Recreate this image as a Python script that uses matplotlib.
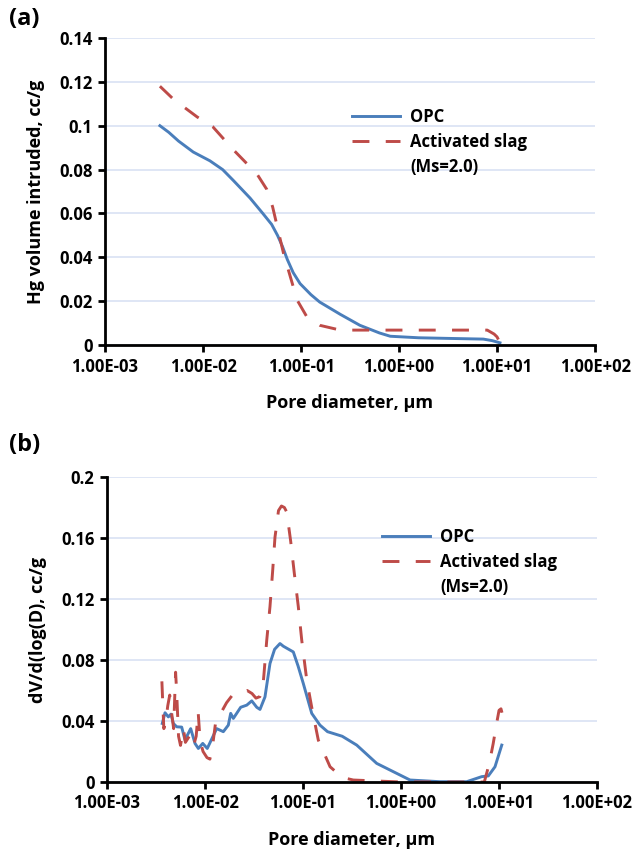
import matplotlib

matplotlib.use("Agg")
import matplotlib.pyplot as plt
from matplotlib.lines import Line2D

# ---- data (pore diameter in um) ----
opc_cum_logd = [-2.44, -2.35, -2.25, -2.10, -1.93, -1.80, -1.69, -1.52, -1.39,
                -1.30, -1.24, -1.19, -1.14, -1.08, -1.01, -0.90, -0.81, -0.60,
                -0.40, -0.20, -0.09, 0.20, 0.52, 0.86, 0.95, 1.03]
opc_cum_vol = [0.100, 0.097, 0.093, 0.088, 0.084, 0.080, 0.075, 0.067, 0.060,
               0.055, 0.050, 0.045, 0.039, 0.033, 0.028, 0.023, 0.0196, 0.014,
               0.009, 0.0055, 0.004, 0.0033, 0.0030, 0.0027, 0.0020, 0.0010]

slag_cum_logd = [-2.44, -2.30, -2.06, -1.90, -1.69, -1.45, -1.35, -1.29, -1.18,
                 -1.04, -0.94, -0.81, -0.60, 0.01, 0.90, 0.97, 1.00, 1.03]
slag_cum_vol = [0.118, 0.112, 0.104, 0.0995, 0.089, 0.078, 0.071, 0.063, 0.042,
                0.0205, 0.0128, 0.009, 0.0068, 0.0068, 0.0068, 0.005, 0.0037, 0.001]

opc_diff_logd = [-2.436, -2.408, -2.374, -2.347, -2.323, -2.289, -2.238, -2.204,
                 -2.146, -2.102, -2.068, -2.023, -1.977, -1.881, -1.813, -1.762,
                 -1.738, -1.711, -1.677, -1.636, -1.574, -1.523, -1.472, -1.439,
                 -1.388, -1.337, -1.290, -1.235, -1.20, -1.099, -1.05, -0.997,
                 -0.911, -0.827, -0.75, -0.60, -0.452, -0.248, 0.092, 0.398,
                 0.670, 0.823, 0.891, 0.959, 1.028]
opc_diff = [0.0384, 0.0454, 0.0427, 0.0445, 0.0384, 0.0362, 0.0360, 0.0276,
            0.0350, 0.0253, 0.0220, 0.0253, 0.0220, 0.0350, 0.0330, 0.0373,
            0.0450, 0.0417, 0.0450, 0.0490, 0.0504, 0.0532, 0.0490, 0.0476,
            0.0558, 0.0777, 0.0870, 0.0908, 0.0890, 0.0853, 0.0760, 0.0646,
            0.0450, 0.0373, 0.0330, 0.0300, 0.0242, 0.0122, 0.0013, 0.0002,
            0.0002, 0.0035, 0.0040, 0.0100, 0.0242]

slag_diff_logd = [-2.44, -2.43, -2.42, -2.40, -2.38, -2.36, -2.34, -2.32, -2.30,
                  -2.29, -2.27, -2.25, -2.22, -2.20, -2.16, -2.12, -2.09, -2.07,
                  -2.05, -2.02, -1.98, -1.95, -1.92, -1.89, -1.84, -1.78, -1.72,
                  -1.65, -1.57, -1.52, -1.48, -1.44, -1.41, -1.398, -1.37, -1.337,
                  -1.309, -1.286, -1.25, -1.22, -1.19, -1.166, -1.126, -1.089,
                  -1.048, -1.013, -0.962, -0.911, -0.844, -0.724, -0.60, -0.487,
                  0.0, 0.85, 0.90, 0.94, 0.98, 1.00, 1.02, 1.04]
slag_diff = [0.066, 0.050, 0.035, 0.040, 0.050, 0.057, 0.045, 0.035, 0.072,
             0.060, 0.030, 0.024, 0.035, 0.026, 0.030, 0.023, 0.030, 0.046,
             0.027, 0.020, 0.016, 0.015, 0.025, 0.040, 0.045, 0.052, 0.057,
             0.058, 0.060, 0.058, 0.055, 0.056, 0.062, 0.071, 0.093, 0.115,
             0.139, 0.1605, 0.178, 0.181, 0.180, 0.177, 0.158, 0.137,
             0.115, 0.093, 0.067, 0.049, 0.0275, 0.010, 0.003, 0.0013,
             0.0, 0.0, 0.012, 0.025, 0.040, 0.047, 0.048, 0.043]

x_ticks = [1e-3, 1e-2, 1e-1, 1e0, 1e1, 1e2]
x_tick_labels = ["1.00E-03", "1.00E-02", "1.00E-01", "1.00E+00", "1.00E+01", "1.00E+02"]
a_yticks = [0, 0.02, 0.04, 0.06, 0.08, 0.1, 0.12, 0.14]
b_yticks = [0, 0.04, 0.08, 0.12, 0.16, 0.2]

BLUE = "#4a7ebb"
RED = "#be4b48"
GRID = "#d9e2f3"
DASH = (0, (5.8, 5.6))
LW = 2.1

plt.rcParams["font.family"] = ["Open Sans", "DejaVu Sans"]
plt.rcParams["font.weight"] = "bold"


def to_d(logs):
    return [10 ** v for v in logs]


def style(ax, yticks, ylabel):
    ax.set_xscale("log")
    ax.set_xlim(1e-3, 1e2)
    ax.set_xticks(x_ticks)
    ax.set_xticklabels(x_tick_labels)
    ax.minorticks_off()
    ax.set_ylim(yticks[0], yticks[-1])
    ax.set_yticks(yticks)
    ax.set_yticklabels([f"{v:g}" for v in yticks])
    ax.grid(axis="y", color=GRID, lw=1.2)
    ax.set_axisbelow(True)
    for s in ("top", "right"):
        ax.spines[s].set_visible(False)
    for s in ("left", "bottom"):
        ax.spines[s].set_linewidth(2.0)
        ax.spines[s].set_color("black")
    ax.tick_params(direction="out", length=5, width=2.0, labelsize=12, pad=4)
    for t in ax.get_xticklabels() + ax.get_yticklabels():
        t.set_fontweight("bold")
    ax.set_xlabel("Pore diameter, \u03bcm", fontsize=13, fontweight="bold", labelpad=13)
    ax.set_ylabel(ylabel, fontsize=13, fontweight="bold", labelpad=10)


def add_legend(ax, anchor):
    handles = [
        Line2D([], [], color=BLUE, lw=LW),
        Line2D([], [], color=RED, lw=LW, ls=DASH),
        Line2D([], [], color="none"),
    ]
    labels = ["OPC", "Activated slag", "(Ms=2.0)"]
    leg = ax.legend(handles, labels, loc="upper left", bbox_to_anchor=anchor,
                    frameon=False, fontsize=12, handlelength=2.9,
                    handletextpad=0.6, labelspacing=0.42, borderpad=0,
                    borderaxespad=0)
    for t in leg.get_texts():
        t.set_fontweight("bold")


fig = plt.figure(figsize=(6.35, 8.5), dpi=100)
ax_a = fig.add_axes([0.1654, 0.5941, 0.7717, 0.3612])
ax_b = fig.add_axes([0.1685, 0.0800, 0.7717, 0.3588])

ax_a.plot(to_d(opc_cum_logd), opc_cum_vol, color=BLUE, lw=LW)
ax_a.plot(to_d(slag_cum_logd), slag_cum_vol, color=RED, lw=LW, ls=DASH)
style(ax_a, a_yticks, "Hg volume intruded, cc/g")
add_legend(ax_a, (0.504, 0.772))

ax_b.plot(to_d(opc_diff_logd), opc_diff, color=BLUE, lw=LW)
ax_b.plot(to_d(slag_diff_logd), slag_diff, color=RED, lw=LW, ls=DASH)
style(ax_b, b_yticks, "dV/d(log(D), cc/g")
add_legend(ax_b, (0.561, 0.833))

fig.text(0.014, 0.992, "(a)", fontsize=17, fontweight="bold", va="top")
fig.text(0.014, 0.490, "(b)", fontsize=17, fontweight="bold", va="top")

fig.savefig("out.png", dpi=100)
